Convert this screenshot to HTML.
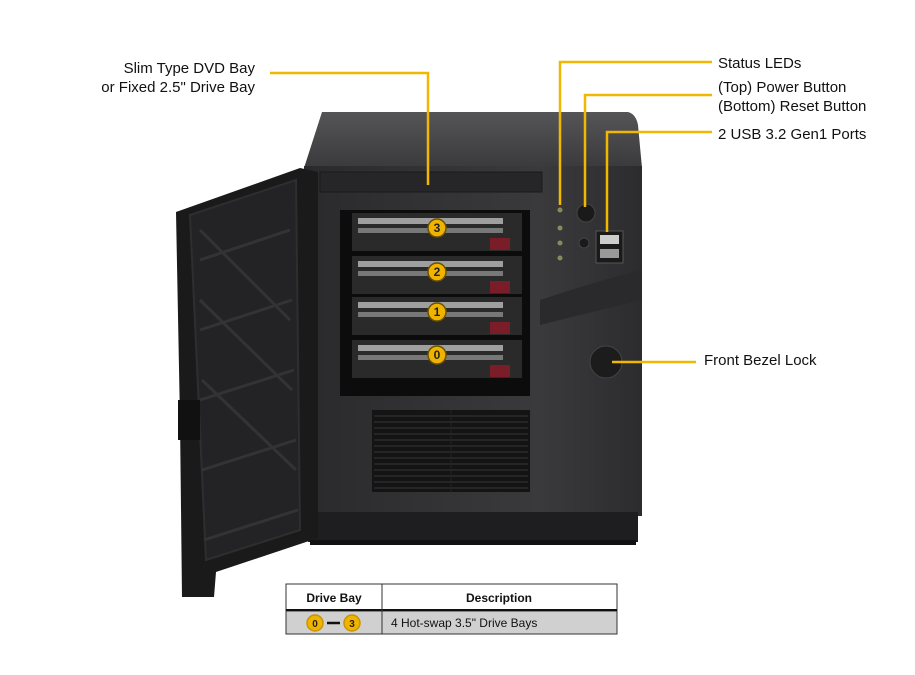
<!DOCTYPE html>
<html><head><meta charset="utf-8"><style>
body{margin:0;background:#fff;width:915px;height:670px;overflow:hidden;font-family:"Liberation Sans",sans-serif}
</style></head><body>
<svg width="915" height="670" viewBox="0 0 915 670" xmlns="http://www.w3.org/2000/svg" font-family="Liberation Sans, sans-serif">
<defs>
<linearGradient id="top" x1="0" y1="0" x2="0" y2="1"><stop offset="0" stop-color="#555557"/><stop offset="1" stop-color="#3a3a3c"/></linearGradient>
<linearGradient id="body" x1="0" y1="0" x2="1" y2="0"><stop offset="0" stop-color="#2a2a2c"/><stop offset="0.7" stop-color="#3a3a3c"/><stop offset="1" stop-color="#2c2c2e"/></linearGradient>
</defs>
<!-- chassis top -->
<path d="M322 112 L628 112 Q636 114 638 125 L642 168 L304 168 Z" fill="url(#top)"/>
<!-- body -->
<rect x="304" y="166" width="338" height="350" fill="url(#body)"/>
<rect x="308" y="512" width="330" height="30" fill="#1e1e20"/>
<rect x="310" y="540" width="326" height="5" fill="#111"/>
<path d="M540 300 Q600 280 642 270 L642 300 Q600 310 540 325 Z" fill="#2a2a2c"/>
<!-- door -->
<path d="M176 212 L300 168 L318 172 L318 538 L216 572 L214 597 L182 597 L180 420 Z" fill="#1a1a1b"/>
<path d="M190 215 L296 180 L300 530 L206 560 Z" fill="#232325" stroke="#2e2e30" stroke-width="2"/>
<g stroke="#333" stroke-width="3" fill="none">
<path d="M200 260 L290 230 M200 330 L292 300 M200 400 L294 370 M202 470 L296 440 M204 540 L298 510"/>
<path d="M200 230 L290 320 M200 300 L292 390 M202 380 L296 470"/>
</g>
<rect x="178" y="400" width="22" height="40" fill="#111"/>
<!-- dvd -->
<rect x="320" y="172" width="222" height="20" fill="#262628" stroke="#1a1a1a"/>
<!-- drive cage -->
<rect x="340" y="210" width="190" height="186" fill="#0c0c0d"/>
<g id="trays">
<g>
<rect x="352" y="213" width="170" height="38" fill="#2a2a2b"/>
<rect x="358" y="218" width="145" height="6" fill="#bdbdbd" opacity=".8"/>
<rect x="358" y="228" width="145" height="5" fill="#9a9a9a" opacity=".7"/>
<rect x="490" y="238" width="20" height="12" fill="#7a1d28"/>
</g>
<g transform="translate(0,43)">
<rect x="352" y="213" width="170" height="38" fill="#2a2a2b"/>
<rect x="358" y="218" width="145" height="6" fill="#bdbdbd" opacity=".8"/>
<rect x="358" y="228" width="145" height="5" fill="#9a9a9a" opacity=".7"/>
<rect x="490" y="238" width="20" height="12" fill="#7a1d28"/>
</g>
<g transform="translate(0,84)">
<rect x="352" y="213" width="170" height="38" fill="#2a2a2b"/>
<rect x="358" y="218" width="145" height="6" fill="#bdbdbd" opacity=".8"/>
<rect x="358" y="228" width="145" height="5" fill="#9a9a9a" opacity=".7"/>
<rect x="490" y="238" width="20" height="12" fill="#7a1d28"/>
</g>
<g transform="translate(0,127)">
<rect x="352" y="213" width="170" height="38" fill="#2a2a2b"/>
<rect x="358" y="218" width="145" height="6" fill="#bdbdbd" opacity=".8"/>
<rect x="358" y="228" width="145" height="5" fill="#9a9a9a" opacity=".7"/>
<rect x="490" y="238" width="20" height="12" fill="#7a1d28"/>
</g>
</g>
<g fill="#f0b400" stroke="#6b5200" stroke-width="1.5" font-size="12" font-weight="bold">
<circle cx="437" cy="228" r="9"/><circle cx="437" cy="272" r="9"/><circle cx="437" cy="312" r="9"/><circle cx="437" cy="355" r="9"/>
</g>
<g font-size="12" font-weight="bold" fill="#222" text-anchor="middle">
<text x="437" y="232">3</text><text x="437" y="276">2</text><text x="437" y="316">1</text><text x="437" y="359">0</text>
</g>
<!-- vent -->
<rect x="372" y="410" width="158" height="82" fill="#141415"/>
<g stroke="#2b2b2d" stroke-width="1.5">
<path d="M374 416H528M374 422H528M374 428H528M374 434H528M374 440H528M374 446H528M374 452H528M374 458H528M374 464H528M374 470H528M374 476H528M374 482H528M374 488H528"/>
</g>
<line x1="451" y1="410" x2="451" y2="492" stroke="#222"/>
<!-- leds/buttons -->
<g fill="#8a8a5a"><circle cx="560" cy="210" r="2.5"/><circle cx="560" cy="228" r="2.5"/><circle cx="560" cy="243" r="2.5"/><circle cx="560" cy="258" r="2.5"/></g>
<circle cx="586" cy="213" r="9" fill="#1a1a1a" stroke="#444"/>
<circle cx="584" cy="243" r="5" fill="#1a1a1a" stroke="#444"/>
<rect x="596" y="231" width="27" height="32" fill="#1a1a1a" stroke="#555"/>
<rect x="600" y="235" width="19" height="9" fill="#ccc"/><rect x="600" y="249" width="19" height="9" fill="#999"/>
<circle cx="606" cy="362" r="16" fill="#1c1c1d" stroke="#444"/>
<!-- callouts -->
<g stroke="#f0b800" stroke-width="2.5" fill="none">
<path d="M270 73 H428 V185"/>
<path d="M712 62 H560 V205"/>
<path d="M712 95 H585 V207"/>
<path d="M712 132 H607 V232"/>
<path d="M612 362 H696"/>
</g>
<g font-size="15" fill="#111">
<text x="255" y="73" text-anchor="end">Slim Type DVD Bay</text>
<text x="255" y="92" text-anchor="end">or Fixed 2.5" Drive Bay</text>
<text x="718" y="68">Status LEDs</text>
<text x="718" y="92">(Top) Power Button</text>
<text x="718" y="111">(Bottom) Reset Button</text>
<text x="718" y="139">2 USB 3.2 Gen1 Ports</text>
<text x="704" y="365">Front Bezel Lock</text>
</g>
<!-- table -->
<rect x="286" y="584" width="331" height="50" fill="#fff" stroke="#333"/>
<rect x="286" y="611" width="331" height="23" fill="#d0d0d0" stroke="#333"/>
<line x1="286" y1="610" x2="617" y2="610" stroke="#111" stroke-width="2"/>
<line x1="382" y1="584" x2="382" y2="634" stroke="#333"/>
<g font-size="12" font-weight="bold" fill="#111" text-anchor="middle">
<text x="334" y="602">Drive Bay</text><text x="499" y="602">Description</text>
</g>
<circle cx="315" cy="623" r="8" fill="#f0b400" stroke="#c89500" stroke-width="1.5"/>
<circle cx="352" cy="623" r="8" fill="#f0b400" stroke="#c89500" stroke-width="1.5"/>
<line x1="327" y1="623" x2="340" y2="623" stroke="#111" stroke-width="2.5"/>
<g font-size="10" font-weight="bold" fill="#222" text-anchor="middle"><text x="315" y="627">0</text><text x="352" y="627">3</text></g>
<text x="391" y="627" font-size="12" fill="#111">4 Hot-swap 3.5" Drive Bays</text>
</svg>
</body></html>
